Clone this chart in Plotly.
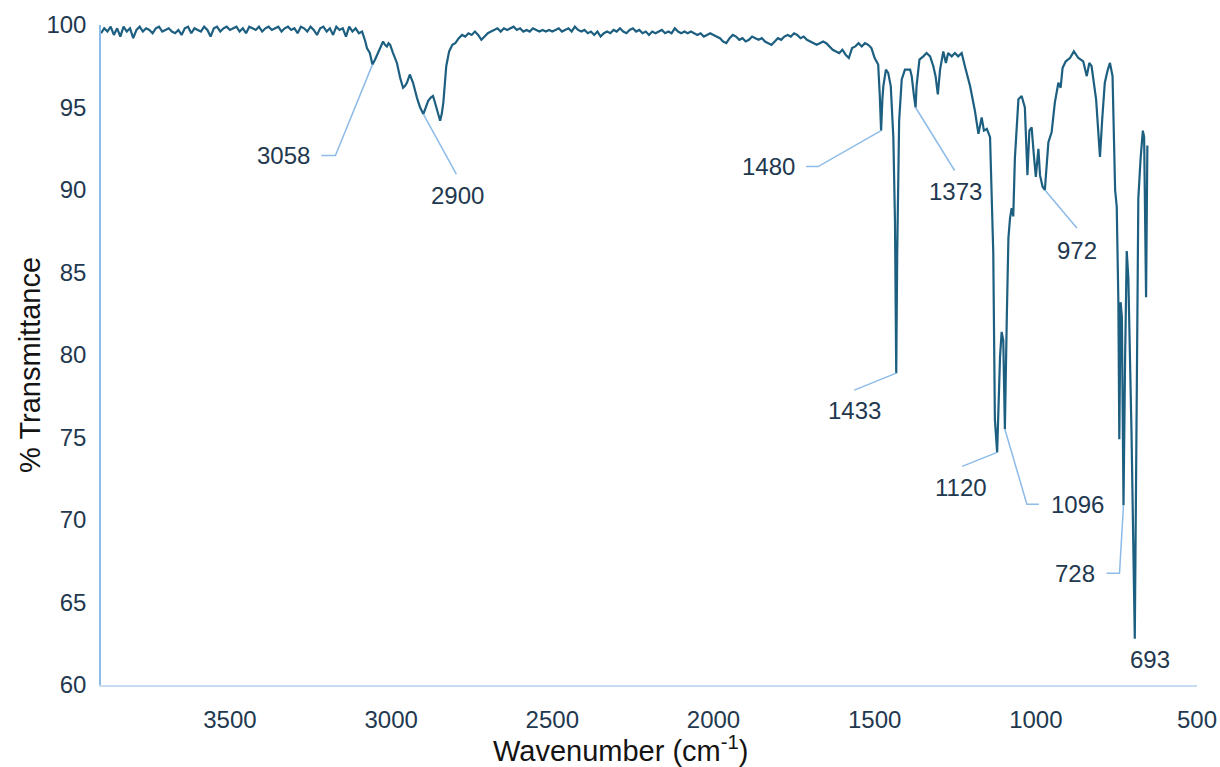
import plotly.graph_objects as go

# --- FTIR spectrum (wavenumber in cm-1, % transmittance) ---------------------

# High-wavenumber baseline
wn_baseline = [3900, 3890, 3880, 3870, 3860, 3850, 3840, 3830, 3820, 3810,
               3800, 3790, 3780, 3770, 3760, 3750, 3740, 3730, 3720, 3710,
               3700, 3690, 3680, 3670, 3660, 3650, 3640, 3630, 3620, 3610,
               3600, 3590, 3580, 3570, 3560, 3550, 3540, 3530, 3520, 3510,
               3500, 3490, 3480, 3470, 3460, 3450, 3440, 3430, 3420, 3410,
               3400, 3390, 3380, 3370, 3360, 3350, 3340, 3330, 3320, 3310,
               3300, 3290, 3280, 3270, 3260, 3250, 3240, 3230, 3220, 3210,
               3200, 3190, 3180, 3170, 3160, 3150, 3140, 3130, 3120, 3110,
               3100, 3090]
t_baseline = [99.5, 99.8, 99.6, 99.9, 99.4, 99.8, 99.3, 99.9, 99.6, 99.8,
              99.2, 99.7, 99.9, 99.6, 99.8, 99.7, 99.5, 99.8, 99.9, 99.6,
              99.7, 99.8, 99.6, 99.5, 99.7, 99.4, 99.8, 99.9, 99.5, 99.8,
              99.7, 99.6, 99.9, 99.7, 99.3, 99.8, 99.9, 99.6, 99.8, 99.9,
              99.7, 99.8, 99.9, 99.6, 99.8, 99.5, 99.9, 99.8, 99.7, 99.9,
              99.6, 99.8, 99.9, 99.7, 99.8, 99.9, 99.6, 99.8, 99.9, 99.7,
              99.8, 99.5, 99.9, 99.8, 99.6, 99.9, 99.7, 99.4, 99.8, 99.9,
              99.6, 99.8, 99.4, 99.9, 99.7, 99.8, 99.3, 99.9, 99.6, 99.8,
              99.5, 99.6]

# C-H stretching region
wn_ch = [3080, 3075, 3066, 3058, 3050, 3041, 3033, 3025, 3019, 3013,
         3008, 3003, 2994, 2982, 2972, 2963, 2957, 2951, 2942, 2937,
         2932, 2920, 2910, 2900, 2892, 2885, 2877, 2870, 2864, 2854,
         2848, 2843, 2838, 2829, 2820, 2810, 2801, 2790, 2780]
t_ch = [99.0, 98.6, 98.3, 97.6, 97.9, 98.3, 98.7, 99.0, 98.8, 98.7,
        98.9, 98.8, 98.3, 97.7, 96.8, 96.2, 96.3, 96.5, 97.0, 96.8,
        96.5, 95.6, 95.0, 94.6, 95.0, 95.4, 95.6, 95.7, 95.3, 94.7,
        94.2, 94.6, 95.3, 97.5, 98.4, 98.8, 98.9, 99.2, 99.4]

# Mid-range baseline
wn_mid = [2770, 2760, 2750, 2740, 2730, 2720, 2710, 2700, 2690, 2680,
          2670, 2660, 2650, 2640, 2630, 2620, 2610, 2600, 2590, 2580,
          2570, 2560, 2550, 2540, 2530, 2520, 2510, 2500, 2490, 2480,
          2470, 2460, 2450, 2440, 2430, 2420, 2410, 2400, 2390, 2380,
          2370, 2360, 2350, 2340, 2330, 2320, 2310, 2300, 2290, 2280,
          2270, 2260, 2250, 2240, 2230, 2220, 2210, 2200, 2190, 2180,
          2170, 2160, 2150, 2140, 2130, 2120, 2110, 2100, 2090, 2080,
          2070, 2060, 2050, 2040, 2030, 2020, 2010, 2000, 1990, 1980,
          1970, 1960, 1950, 1940, 1930, 1920, 1910, 1900, 1890, 1880,
          1870, 1860, 1850, 1840, 1830, 1820, 1810, 1800, 1790, 1780,
          1770, 1760, 1750, 1740, 1730, 1720, 1710, 1700, 1690, 1680,
          1670, 1660, 1650, 1640, 1630, 1620, 1610, 1600, 1590, 1580,
          1570, 1560, 1550, 1540, 1530, 1520, 1510, 1500, 1493]
t_mid = [99.3, 99.5, 99.4, 99.6, 99.4, 99.1, 99.3, 99.5, 99.6, 99.7,
         99.8, 99.6, 99.8, 99.7, 99.8, 99.9, 99.7, 99.8, 99.6, 99.7,
         99.6, 99.8, 99.7, 99.6, 99.7, 99.6, 99.7, 99.6, 99.7, 99.8,
         99.6, 99.7, 99.8, 99.6, 99.9, 99.7, 99.6, 99.7, 99.5, 99.6,
         99.4, 99.6, 99.3, 99.5, 99.6, 99.5, 99.7, 99.6, 99.8, 99.6,
         99.5, 99.7, 99.8, 99.6, 99.7, 99.5, 99.6, 99.4, 99.6, 99.5,
         99.6, 99.7, 99.5, 99.6, 99.5, 99.8, 99.6, 99.5, 99.6, 99.5,
         99.6, 99.5, 99.4, 99.5, 99.3, 99.4, 99.5, 99.4, 99.3, 99.2,
         99.0, 98.9, 99.2, 99.4, 99.3, 99.1, 99.2, 99.0, 99.1, 99.3,
         99.2, 99.1, 99.2, 99.0, 98.9, 98.8, 99.0, 99.2, 99.1, 99.3,
         99.4, 99.3, 99.5, 99.4, 99.2, 99.3, 99.1, 99.0, 98.9, 98.8,
         98.9, 99.0, 98.9, 98.7, 98.5, 98.4, 98.3, 98.5, 98.2, 98.0,
         98.6, 98.7, 98.9, 98.7, 98.9, 98.8, 98.6, 98.0, 97.7]

# Fingerprint region (upper part)
wn_fp1 = [1489, 1484, 1480, 1476, 1473, 1465, 1458, 1450, 1442, 1437,
          1433, 1430, 1424, 1416, 1406, 1390, 1385, 1378, 1373, 1370,
          1361, 1349, 1339, 1328, 1318, 1311, 1304, 1297, 1287, 1279,
          1272, 1261, 1251, 1241, 1230, 1220, 1204, 1189, 1178, 1173,
          1168, 1161, 1152, 1142, 1132, 1127, 1120]
t_fp1 = [97.6, 95.7, 93.6, 95.5, 96.3, 97.3, 97.1, 96.3, 93.2, 88.2,
         78.9, 86.2, 94.2, 96.7, 97.3, 97.3, 96.9, 95.7, 95.0, 96.3,
         97.9, 98.1, 98.3, 98.1, 97.5, 96.9, 95.8, 97.3, 98.4, 97.7,
         98.3, 98.1, 98.3, 98.1, 98.3, 97.5, 96.3, 94.8, 93.4, 93.9,
         94.4, 93.6, 93.7, 93.2, 86.2, 76.1, 74.1]

# Fingerprint region (lower part)
wn_fp2 = [1111, 1106, 1101, 1096, 1090, 1085, 1080, 1075, 1070, 1065,
          1054, 1044, 1034, 1026, 1020, 1013, 1006, 1000, 992, 987,
          979, 972, 961, 951, 941, 930, 923, 917, 907, 894,
          882, 868, 853, 842, 834, 827, 813, 806, 801, 794,
          786, 778, 770, 762, 754, 749, 744, 741, 737, 733,
          728, 723, 718, 713, 703, 693, 687, 682, 675, 668,
          664, 658, 654]
t_fp2 = [79.9, 81.4, 80.9, 75.5, 82.3, 87.1, 88.3, 88.9, 88.4, 91.9,
         95.5, 95.7, 95.0, 90.9, 93.6, 93.8, 92.1, 90.8, 92.5, 90.9,
         90.2, 90.0, 92.9, 93.5, 95.3, 96.5, 96.2, 97.4, 97.8, 98.0,
         98.4, 98.0, 97.8, 96.9, 97.7, 97.5, 95.5, 93.6, 92.0, 94.3,
         96.5, 97.2, 97.7, 96.9, 90.0, 89.0, 83.3, 74.9, 83.2, 82.3,
         70.9, 79.9, 86.3, 84.7, 75.1, 62.8, 79.9, 89.5, 91.9, 93.6,
         93.2, 83.5, 92.7]

# Labelled band positions (cm-1)
peak_wn = [3058, 2900, 1480, 1433, 1373, 1120, 1096, 972, 728, 693]

x_ticks = [3500, 3000, 2500, 2000, 1500, 1000, 500]
y_ticks = [60, 65, 70, 75, 80, 85, 90, 95, 100]

wavenumber = wn_baseline + wn_ch + wn_mid + wn_fp1 + wn_fp2
transmittance = t_baseline + t_ch + t_mid + t_fp1 + t_fp2
lookup = dict(zip(wavenumber, transmittance))

# --- styling ------------------------------------------------------------------
LINE_COLOR = "#1d5f80"
LEADER_COLOR = "#8dbbe8"
TEXT_COLOR = "#22384f"
FONT = "Liberation Sans, Arial, sans-serif"
TICK_SIZE = 24
TITLE_SIZE = 29

# leader elbows (screen px, +y downward) and label anchor per band
label_style = {
    3058: dict(path=[(-37, 91), (-51, 91)], text=(-60, 91), anchor="right"),
    2900: dict(path=[(33, 60)], text=(34, 81), anchor="center"),
    1480: dict(path=[(-63, 36), (-75, 36)], text=(-84, 36), anchor="right"),
    1433: dict(path=[(-42, 17)], text=(-42, 37), anchor="center"),
    1373: dict(path=[(39, 63)], text=(40, 84), anchor="center"),
    1120: dict(path=[(-35, 14)], text=(-36, 35), anchor="center"),
    1096: dict(path=[(22, 75), (34, 75)], text=(44, 75), anchor="left"),
    972: dict(path=[(32, 38)], text=(32, 60), anchor="center"),
    728: dict(path=[(-4, 68), (-17, 68)], text=(-27, 68), anchor="right"),
    693: dict(path=[], text=(15, 21), anchor="center"),
}

fig = go.Figure()
fig.add_trace(go.Scatter(
    x=wavenumber, y=transmittance, mode="lines",
    line=dict(color=LINE_COLOR, width=2.2),
    hoverinfo="x+y", showlegend=False,
))

shapes = []
annotations = []
for wn in peak_wn:
    t = lookup[wn]
    st = label_style[wn]
    if st["path"]:
        d = "M0,0" + "".join(f" L{dx},{-dy}" for dx, dy in st["path"])
        shapes.append(dict(
            type="path", path=d, xref="x", yref="y",
            xsizemode="pixel", ysizemode="pixel", xanchor=wn, yanchor=t,
            line=dict(color=LEADER_COLOR, width=1.5),
        ))
    tx, ty = st["text"]
    annotations.append(dict(
        x=wn, y=t, xref="x", yref="y", text=str(wn), showarrow=False,
        xshift=tx, yshift=-ty, xanchor=st["anchor"], yanchor="middle",
        font=dict(family=FONT, size=TICK_SIZE, color=TEXT_COLOR),
    ))

# axis titles
annotations.append(dict(
    x=0.474, y=0, xref="paper", yref="paper", yshift=-64,
    text="Wavenumber (cm<sup>-1</sup>)", showarrow=False,
    xanchor="center", yanchor="middle",
    font=dict(family=FONT, size=TITLE_SIZE, color="#141414"),
))
annotations.append(dict(
    x=0, y=0.485, xref="paper", yref="paper", xshift=-71,
    text="% Transmittance", showarrow=False, textangle=-90,
    xanchor="center", yanchor="middle",
    font=dict(family=FONT, size=TITLE_SIZE, color="#141414"),
))

fig.update_layout(
    width=1220, height=767,
    margin=dict(l=101, r=23, t=25, b=82),
    paper_bgcolor="white", plot_bgcolor="white",
    font=dict(family=FONT, size=TICK_SIZE, color=TEXT_COLOR),
    shapes=shapes, annotations=annotations,
    xaxis=dict(
        range=[3900, 500], tickvals=x_ticks, ticks="",
        showgrid=False, zeroline=False,
        showline=True, linecolor="#c8dcf1", linewidth=1.5,
        ticklabelstandoff=12, automargin=False,
        ticklabeloverflow="allow",
        tickfont=dict(family=FONT, size=TICK_SIZE, color=TEXT_COLOR),
    ),
    yaxis=dict(
        range=[60, 100], tickvals=y_ticks, ticks="",
        showgrid=False, zeroline=False,
        showline=True, linecolor="#8dbbe8", linewidth=1.5,
        ticklabelstandoff=8, automargin=False,
        tickfont=dict(family=FONT, size=TICK_SIZE, color=TEXT_COLOR),
    ),
)

fig.write_html("out.html")
